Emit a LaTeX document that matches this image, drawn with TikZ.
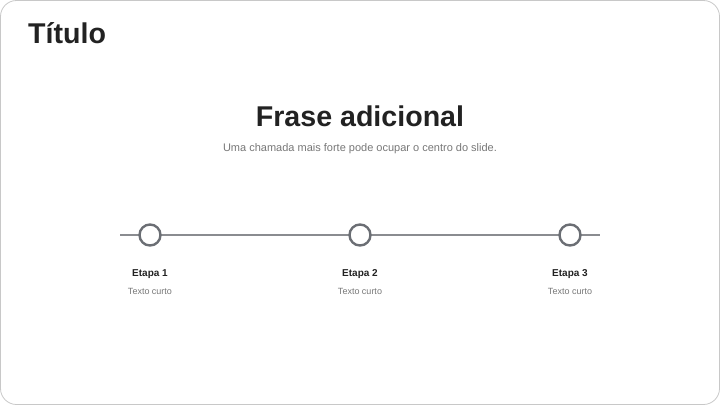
\documentclass[tikz,border=0pt]{standalone}
\usepackage{fontspec}
\setmainfont{Liberation Sans}
\definecolor{txtdark}{HTML}{222222}
\definecolor{txtgray}{HTML}{777777}
\definecolor{linegray}{HTML}{8A8C90}
\definecolor{circgray}{HTML}{6B6E74}
\definecolor{framegray}{HTML}{C8C8C8}
\begin{document}
\begin{tikzpicture}[x=1pt,y=-1pt,
  titlestyle/.style={font=\bfseries\fontsize{28.6}{32}\selectfont, text=txtdark, inner sep=0pt},
  substyle/.style={font=\fontsize{11}{13}\selectfont, text=txtgray, inner sep=0pt},
  dotstyle/.style={circle, draw=circgray, line width=2.4pt, fill=white, minimum size=21pt, inner sep=0pt},
  stagestyle/.style={font=\bfseries\fontsize{10}{12}\selectfont, text=txtdark, inner sep=0pt},
  smallstyle/.style={font=\fontsize{9}{11}\selectfont, text=txtgray, inner sep=0pt}]
\useasboundingbox (0,0) rectangle (720,405);
\draw[framegray, line width=0.8pt, rounded corners=16pt] (0.5,0.5) rectangle (719.5,404.5);
\node[titlestyle, anchor=base west] (title) at (28,43) {Título};
\node[titlestyle, anchor=base] (head) at (360,126) {Frase adicional};
\node[substyle, anchor=base] (sub) at (360,151) {Uma chamada mais forte pode ocupar o centro do slide.};
\coordinate (lstart) at (120,235);
\coordinate (lend) at (600,235);
\draw[linegray, line width=2pt] (lstart) -- (lend);
\node[dotstyle] (c1) at (150,235) {};
\node[dotstyle] (c2) at (360,235) {};
\node[dotstyle] (c3) at (570,235) {};
\foreach \i/\x in {1/150,2/360,3/570}{
  \node[stagestyle, anchor=base] (e\i) at (\x,276) {Etapa \i};
  \node[smallstyle, anchor=base] (t\i) at (\x,294) {Texto curto};
}
\end{tikzpicture}
\end{document}
